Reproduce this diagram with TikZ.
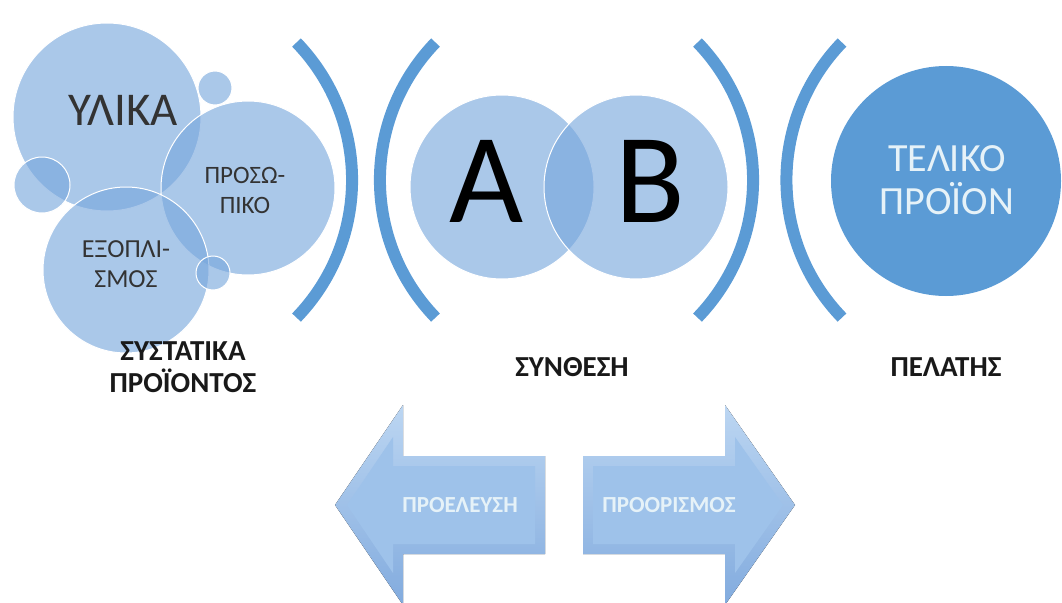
\documentclass[tikz,border=0pt]{standalone}
\usepackage{fontspec}
\setmainfont{Carlito}
\usepackage{xcolor}
\usetikzlibrary{positioning,calc}
\definecolor{bubblefill}{HTML}{76A6DC}
\definecolor{ringblue}{HTML}{5B9BD5}
\definecolor{arrowlight}{HTML}{BCD6F2}
\definecolor{arrowdark}{HTML}{82ABDE}
\definecolor{arrowface}{HTML}{9EC2EA}
\definecolor{paletext}{HTML}{E6F2F8}
\definecolor{darktext}{HTML}{333333}

\begin{document}
\begin{tikzpicture}[x=1pt, y=-1pt,
    bubble/.style={circle, fill=bubblefill, fill opacity=0.62, draw=white, line width=1pt, inner sep=0pt},
    bracket/.style={draw=ringblue, line width=12pt},
    steptitle/.style={font=\bfseries\fontsize{29}{32}\selectfont, align=center, text=black!90},
    arrowtext/.style={font=\bfseries\fontsize{23}{23}\selectfont, text=paletext}]
    \useasboundingbox (0,0) rectangle (1062,602);

    % Components
    \node[bubble, minimum size=188pt] (yl) at (107,117) {};
    \node[bubble, minimum size=34pt] (dotA) at (215,88) {};
    \node[bubble, minimum size=56pt] (dotB) at (42,185) {};
    \node[bubble, minimum size=174pt] (pr) at (248,188) {};
    \node[bubble, minimum size=166pt] (ex) at (126,270) {};
    \node[bubble, minimum size=34pt] (dotC) at (213,273) {};
    \node[font=\fontsize{47}{47}\selectfont, text=darktext] (tyl) at (123,110) {ΥΛΙΚΑ};
    \node[font=\fontsize{25}{30}\selectfont, text=darktext, align=center] (tpr) at (245,190) {ΠΡΟΣΩ-\\ΠΙΚΟ};
    \node[font=\fontsize{26}{30}\selectfont, text=darktext, align=center] (tex) at (126,264) {ΕΞΟΠΛΙ-\\ΣΜΟΣ};
    \node[steptitle] (tcomp) at (183,367) {ΣΥΣΤΑΤΙΚΑ\\ΠΡΟΪΟΝΤΟΣ};

    % Brackets
    \draw[bracket] (296.5,42.5) arc[start angle=44, end angle=-44, radius=198pt];
    \draw[bracket] (435.5,42.5) arc[start angle=136, end angle=224, radius=198pt];
    \draw[bracket] (697.5,42.5) arc[start angle=44, end angle=-44, radius=198pt];
    \draw[bracket] (842,42.5) arc[start angle=136, end angle=224, radius=198pt];

    % Synthesis
    \node[bubble, minimum size=184pt] (ca) at (502,187) {};
    \node[bubble, minimum size=184pt] (cb) at (636,187) {};
    \node[font=\fontsize{128}{128}\selectfont] (ta) at (487,181) {A};
    \node[font=\fontsize{128}{128}\selectfont] (tb) at (650,181) {B};
    \node[steptitle] (tsyn) at (572,367) {ΣΥΝΘΕΣΗ};

    % Customer
    \node[circle, fill=ringblue, minimum size=230pt, inner sep=0pt] (fin) at (946,181) {};
    \node[font=\fontsize{40}{43}\selectfont, text=paletext, align=center] (tfin) at (947,180) {ΤΕΛΙΚΟ\\ΠΡΟΪΟΝ};
    \node[steptitle] (tcust) at (946,367) {ΠΕΛΑΤΗΣ};

    % Arrows
    \fill[top color=arrowlight, bottom color=arrowdark] (335,505) -- (403,405) -- (403,456) -- (545,456) -- (545,554) -- (403,554) -- (403,605) -- cycle;
    \fill[arrowface] (347,505) -- (393,437) -- (393,466) -- (535,466) -- (535,544) -- (393,544) -- (393,573) -- cycle;
    \fill[top color=arrowlight, bottom color=arrowdark] (583,456) -- (725,456) -- (725,405) -- (795,505) -- (725,605) -- (725,554) -- (583,554) -- cycle;
    \fill[arrowface] (593,466) -- (735,466) -- (735,437) -- (783,505) -- (735,573) -- (735,544) -- (593,544) -- cycle;
    \node[arrowtext] (tsrc) at (460,505) {ΠΡΟΕΛΕΥΣΗ};
    \node[arrowtext] (tdst) at (669,505) {ΠΡΟΟΡΙΣΜΟΣ};
\end{tikzpicture}
\end{document}
